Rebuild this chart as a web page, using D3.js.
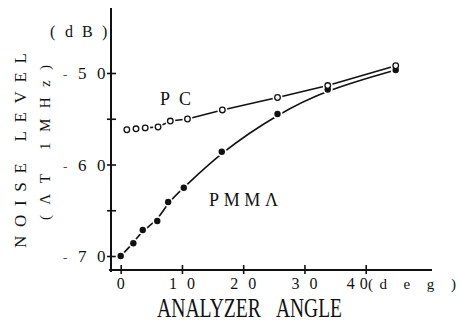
<!DOCTYPE html>
<html><head><meta charset="utf-8">
<script src="https://cdn.jsdelivr.net/npm/d3@7"></script>
<style>
html,body{margin:0;padding:0;background:#fff;}
svg{display:block;}
text{font-family:"Liberation Serif","DejaVu Serif",serif;fill:#111;}
</style></head>
<body>
<svg id="chart" width="467" height="324"></svg>
<script>
// ---- data ----
const pcAngle   = [1.0, 2.5, 4.0, 6.1, 8.1, 10.9, 16.6, 25.6, 33.8, 44.9];
const pcNoise   = [-56.2, -56.1, -56.0, -55.9, -55.25, -55.03, -54.04, -52.68, -51.37, -49.21];
const pmmaAngle = [0, 2.06, 3.6, 5.97, 7.75, 10.3, 16.5, 25.6, 33.8, 44.9];
const pmmaNoise = [-70.0, -68.6, -67.16, -66.17, -64.1, -62.54, -58.6, -54.48, -51.8, -49.67];
const xTicks = [0, 10, 20, 30, 40];
const yMajorTicks = [-50, -60, -70];
const yMinorTicks = [-55, -65];
const seriesLabels = ["PC", "PMMΛ"];
const xTitleWords = ["ANALYZER", "ANGLE"];
const yTitle1 = "NOISE LEVEL";
const yTitle2 = "(ΛT 1MHz)";
const yUnit = ["(", "d", "B", ")"];
const xUnit = "(d e g )";

const svg = d3.select("#chart");
const x = d3.scaleLinear().domain([0, 40]).range([120.7, 365.7]);
const y = d3.scaleLinear().domain([-70, -50]).range([256, 73]);

// axis frame
svg.append("line").attr("x1",111).attr("x2",111).attr("y1",8).attr("y2",272)
  .attr("stroke","#111").attr("stroke-width",2);
svg.append("line").attr("x1",109).attr("x2",432).attr("y1",270).attr("y2",270)
  .attr("stroke","#111").attr("stroke-width",2);

// y axis ticks
const yAx = svg.append("g").attr("transform","translate(111,0)")
  .call(d3.axisLeft(y).tickValues(yMajorTicks.concat(yMinorTicks)).tickFormat("").tickSizeOuter(0));
yAx.select(".domain").remove();
yAx.selectAll(".tick line").attr("x1",-4).attr("x2",5).attr("stroke","#111").attr("stroke-width",1.6);

// x axis ticks
const xAx = svg.append("g").attr("transform","translate(0,270)")
  .call(d3.axisBottom(x).tickValues(xTicks).tickFormat("").tickSizeOuter(0));
xAx.select(".domain").remove();
xAx.selectAll(".tick line").attr("y1",-5).attr("y2",4).attr("stroke","#111").attr("stroke-width",1.6);

// y tick labels
yMajorTicks.forEach(v => {
  const s = String(Math.abs(v));
  const t = svg.append("text").attr("y", y(v)+6).attr("font-size",17);
  t.append("tspan").attr("x",63).attr("font-size",13).attr("fill","#444").text("-");
  t.append("tspan").attr("x",78).text(s[0]);
  t.append("tspan").attr("x",97).text(s[1]);
});

// x tick labels
xTicks.forEach(v => {
  const s = String(v);
  const cx = x(v);
  const t = svg.append("text").attr("y",289).attr("font-size",16).attr("text-anchor","middle");
  if (s.length === 1) { t.text(s).attr("x", cx); }
  else if (v === 40) {
    t.append("tspan").attr("x",cx-15).text(s[0]);
    t.append("tspan").attr("x",cx-2).text(s[1]);
  } else {
    t.append("tspan").attr("x",cx-9).text(s[0]);
    t.append("tspan").attr("x",cx+9).text(s[1]);
  }
});
svg.append("text").attr("x",368).attr("y",289).attr("font-size",15)
  .attr("textLength",88).attr("lengthAdjust","spacing").text(xUnit);

// x title: condensed by horizontal scaling to the measured widths
function condensed(txt, x0, width){
  const t = svg.append("text").attr("font-size",27).text(txt);
  const w = t.node().getComputedTextLength();
  t.attr("transform",`translate(${x0},317) scale(${width/w},1)`);
}
condensed(xTitleWords[0], 157, 104);
condensed(xTitleWords[1], 276, 66);

svg.append("text").attr("transform","translate(26,248) rotate(-90)").attr("font-size",17)
  .attr("textLength",195).attr("lengthAdjust","spacing").text(yTitle1);
svg.append("text").attr("transform","translate(50,220) rotate(-90)").attr("font-size",15)
  .attr("textLength",155).attr("lengthAdjust","spacing").text(yTitle2);
const ut = svg.append("text").attr("y",37).attr("font-size",16);
[50, 65, 82, 102].forEach((px,i) => ut.append("tspan").attr("x",px).text(yUnit[i]));

// series labels
svg.append("text").attr("x",160).attr("y",104.5).attr("font-size",18)
  .attr("textLength",31).attr("lengthAdjust","spacing").text(seriesLabels[0]);
svg.append("text").attr("x",209).attr("y",206).attr("font-size",18)
  .attr("textLength",69).attr("lengthAdjust","spacing").text(seriesLabels[1]);

// lines
const pc = pcAngle.map((a,i)=>[a,pcNoise[i]]);
const pm = pmmaAngle.map((a,i)=>[a,pmmaNoise[i]]);
const lineLin = d3.line().x(d=>x(d[0])).y(d=>y(d[1]));
const lineSm = d3.line().x(d=>x(d[0])).y(d=>y(d[1])).curve(d3.curveBasis);
svg.append("path").attr("d",lineLin(pc)).attr("fill","none").attr("stroke","#111").attr("stroke-width",1.6);
svg.append("path").attr("d",lineSm(pm)).attr("fill","none").attr("stroke","#111").attr("stroke-width",1.6);

// halos (gaps in lines near markers)
svg.append("g").selectAll("circle").data(pm.concat(pc)).join("circle")
  .attr("cx",d=>x(d[0])).attr("cy",d=>y(d[1])).attr("r",5).attr("fill","#fff");

// markers
svg.append("g").selectAll("circle").data(pm).join("circle")
  .attr("cx",d=>x(d[0])).attr("cy",d=>y(d[1])).attr("r",3.2).attr("fill","#111");
svg.append("g").selectAll("circle").data(pc).join("circle")
  .attr("cx",d=>x(d[0])).attr("cy",d=>y(d[1])).attr("r",2.8)
  .attr("fill","#fff").attr("stroke","#111").attr("stroke-width",1.3);
</script>
</body></html>
